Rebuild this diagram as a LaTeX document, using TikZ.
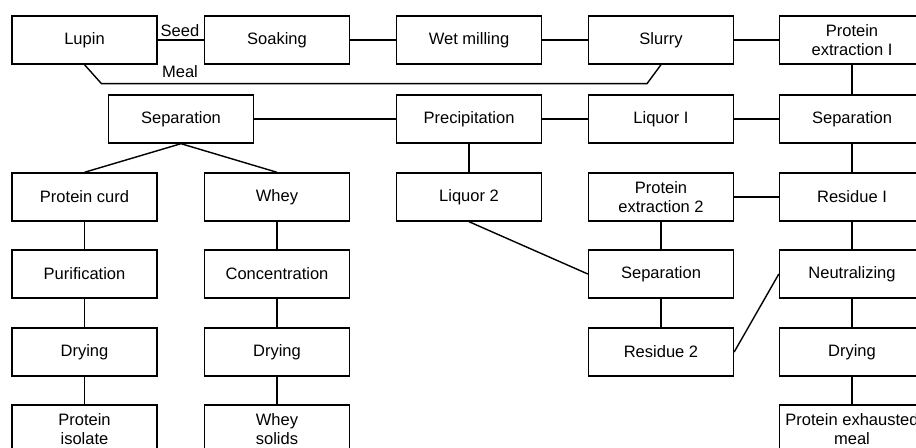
\documentclass[tikz,border=0pt]{standalone}
\usepackage{fontspec}
\setmainfont{Liberation Sans}
\begin{document}
\begin{tikzpicture}[x=0.02cm,y=-0.02cm,line width=0.8pt,
    font=\fontsize{9.4}{10.4}\selectfont,
    box/.style={draw,minimum width=2.9cm,minimum height=0.96cm,align=center,inner sep=1pt}]
    \useasboundingbox (0,0) rectangle (916,448);
    \clip (0,0) rectangle (916,448);
    \path (84.5,40) node[box] (lupin) {Lupin};
    \path (277,40) node[box] (soaking) {Soaking};
    \path (469,40) node[box] (wetmill) {Wet milling};
    \path (661,40) node[box] (slurry) {Slurry};
    \path (852,40) node[box] (extr1) {Protein\\extraction I};
    \path (181,119) node[box] (sep1) {Separation};
    \path (469,119) node[box] (precip) {Precipitation};
    \path (661,119) node[box] (liquor1) {Liquor I};
    \path (852,119) node[box] (sep2) {Separation};
    \path (84.5,197) node[box] (curd) {Protein curd};
    \path (277,197) node[box] (whey) {Whey};
    \path (469,197) node[box] (liquor2) {Liquor 2};
    \path (661,197) node[box] (extr2) {Protein\\extraction 2};
    \path (852,197) node[box] (res1) {Residue I};
    \path (84.5,274) node[box] (purif) {Purification};
    \path (277,274) node[box] (conc) {Concentration};
    \path (661,274) node[box] (sep3) {Separation};
    \path (852,274) node[box] (neutr) {Neutralizing};
    \path (84.5,352) node[box] (dry1) {Drying};
    \path (277,352) node[box] (dry2) {Drying};
    \path (661,352) node[box] (res2) {Residue 2};
    \path (852,352) node[box] (dry3) {Drying};
    \path (84.5,429) node[box] (isolate) {Protein\\isolate};
    \path (277,429) node[box] (solids) {Whey\\solids};
    \path (852,429) node[box] (meal) {Protein exhausted\\meal};
    \node[inner sep=0pt] (seed) at (180,31) {Seed};
    \node[inner sep=0pt] (meallbl) at (180,72) {Meal};
    \draw (lupin) -- (soaking);
    \draw (soaking) -- (wetmill);
    \draw (wetmill) -- (slurry);
    \draw (slurry) -- (extr1);
    \draw (lupin.south) -- ([shift={(17,19)}]lupin.south) -- ([shift={(-14,19)}]slurry.south) -- (slurry.south);
    \draw (extr1) -- (sep2);
    \draw (sep2) -- (liquor1);
    \draw (liquor1) -- (precip);
    \draw (precip) -- (sep1);
    \draw (sep1.south) -- (curd.north);
    \draw (sep1.south) -- (whey.north);
    \draw (precip) -- (liquor2);
    \draw (sep2) -- (res1);
    \draw (res1) -- (extr2);
    \draw (extr2) -- (sep3);
    \draw (liquor2.south) -- (sep3.west);
    \draw (sep3) -- (res2);
    \draw (res2.east) -- (neutr.west);
    \draw (res1) -- (neutr);
    \draw (neutr) -- (dry3);
    \draw (dry3) -- (meal);
    \draw (curd) -- (purif);
    \draw (purif) -- (dry1);
    \draw (dry1) -- (isolate);
    \draw (whey) -- (conc);
    \draw (conc) -- (dry2);
    \draw (dry2) -- (solids);
\end{tikzpicture}
\end{document}
